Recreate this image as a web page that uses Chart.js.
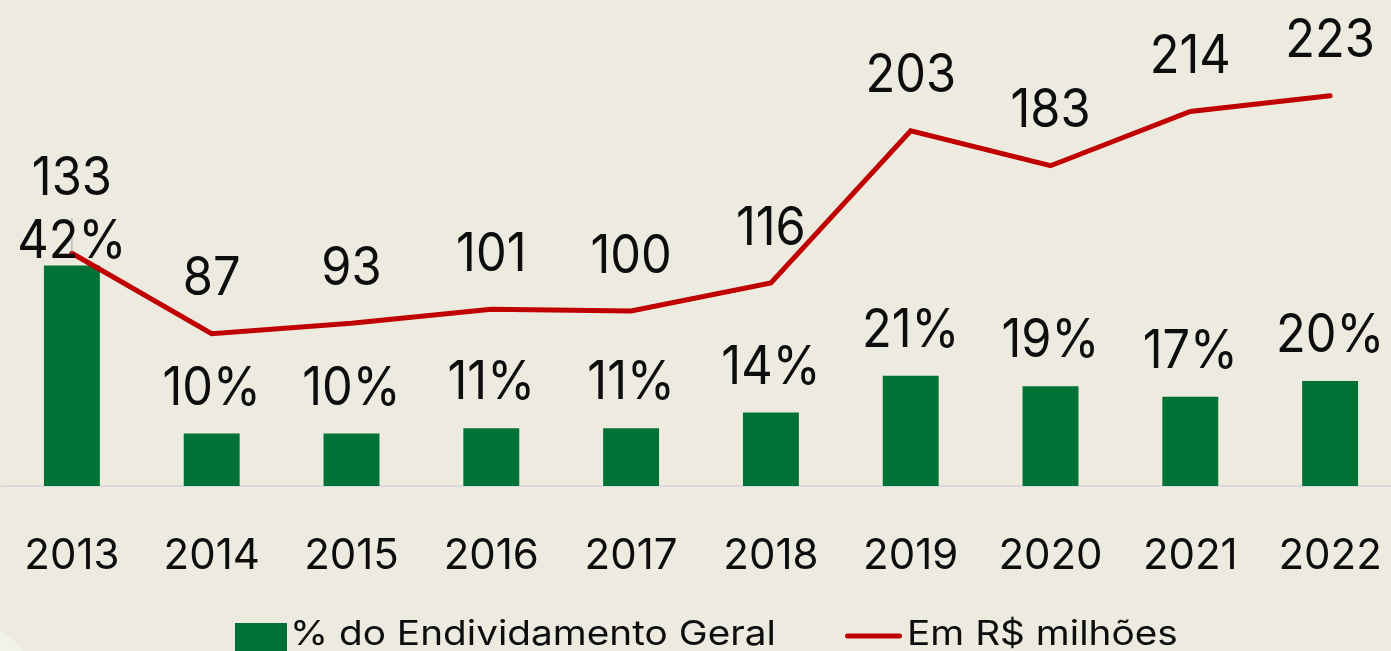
<!DOCTYPE html>
<html>
<head>
<meta charset="utf-8">
<script src="https://cdn.jsdelivr.net/npm/chart.js@4.4.1/dist/chart.umd.min.js"></script>
<style>
  html, body { margin: 0; padding: 0; background: #EDEBE0; overflow: hidden; }
  #wrap { width: 1391px; height: 651px; overflow: hidden; position: relative; }
  canvas { display: block; }
</style>
</head>
<body>
<div id="wrap"><canvas id="chart" width="1400" height="651"></canvas></div>
<script>
// Anos
const years = ['2013', '2014', '2015', '2016', '2017', '2018', '2019', '2020', '2021', '2022'];
// Participação no endividamento geral (%)
const debtShare = [42, 10, 10, 11, 11, 14, 21, 19, 17, 20];
// Valor em R$ milhões
const amountMillions = [133, 87, 93, 101, 100, 116, 203, 183, 214, 223];
// Nomes das séries
const seriesNames = ['% do Endividamento Geral', 'Em R$ milhões'];

const GREEN = '#007236';
const RED = '#C00000';
const INK = '#0d0d0d';
const FONT = 'Inter, "Open Sans", sans-serif';
const LABEL_SIZE = 53;
const LABEL_HS = 0.92;
const LEGEND_SIZE = 34;
const LEGEND_HS = 1.14;

function drawText(ctx, text, x, y, hs) {
  ctx.save();
  ctx.translate(x, y);
  ctx.scale(hs, 1);
  ctx.fillText(text, 0, 0);
  ctx.restore();
}

// Fundo com o arco claro no canto inferior esquerdo
const backdrop = {
  id: 'backdrop',
  beforeDraw(chart) {
    const ctx = chart.ctx;
    ctx.save();
    ctx.fillStyle = '#EDEBE0';
    ctx.fillRect(0, 0, chart.width, chart.height);
    ctx.beginPath();
    ctx.arc(-60, 720, 108, 0, Math.PI * 2);
    ctx.fillStyle = '#F1F3E9';
    ctx.fill();
    ctx.restore();
  }
};

// Rótulos de valor das barras e da linha
const valueLabels = {
  id: 'valueLabels',
  afterDatasetsDraw(chart) {
    const ctx = chart.ctx;
    const bars = chart.getDatasetMeta(0).data;
    const pts = chart.getDatasetMeta(1).data;
    const cap = LABEL_SIZE * 0.727;
    ctx.save();
    ctx.fillStyle = INK;
    ctx.textAlign = 'center';
    ctx.textBaseline = 'alphabetic';
    ctx.font = `${LABEL_SIZE}px ${FONT}`;
    bars.forEach((bar, i) => {
      const pt = pts[i];
      let barBase = bar.y - 29;
      let lineBase = pt.y - 38.5;
      let leader = false;
      if (Math.abs(barBase - lineBase) < cap + 8) {
        // rótulos sobrepostos: o da barra encosta na barra, o da linha sobe
        barBase = bar.y - 7.5;
        lineBase = barBase - 63;
        leader = true;
      }
      if (leader) {
        ctx.save();
        ctx.strokeStyle = 'rgba(150,150,150,0.55)';
        ctx.lineWidth = 1.5;
        ctx.beginPath();
        ctx.moveTo(pt.x, lineBase + 23);
        ctx.lineTo(pt.x, pt.y);
        ctx.stroke();
        ctx.restore();
      }
      drawText(ctx, debtShare[i] + '%', bar.x, barBase, LABEL_HS);
      drawText(ctx, String(amountMillions[i]), pt.x, lineBase, LABEL_HS);
    });
    ctx.restore();
  }
};

// Legenda na base
const bottomLegend = {
  id: 'bottomLegend',
  afterDraw(chart) {
    const ctx = chart.ctx;
    ctx.save();
    ctx.fillStyle = GREEN;
    ctx.fillRect(235, 623, 52, 32);
    ctx.strokeStyle = RED;
    ctx.lineWidth = 5;
    ctx.lineCap = 'round';
    ctx.beginPath();
    ctx.moveTo(847.5, 636);
    ctx.lineTo(899.5, 636);
    ctx.stroke();
    ctx.fillStyle = INK;
    ctx.textAlign = 'left';
    ctx.textBaseline = 'alphabetic';
    ctx.font = `${LEGEND_SIZE}px ${FONT}`;
    drawText(ctx, seriesNames[0], 290, 645, LEGEND_HS);
    drawText(ctx, seriesNames[1], 907, 645, LEGEND_HS);
    ctx.restore();
  }
};

new Chart(document.getElementById('chart'), {
  data: {
    labels: years,
    datasets: [
      {
        type: 'bar',
        label: seriesNames[0],
        data: debtShare,
        backgroundColor: GREEN,
        categoryPercentage: 0.8,
        barPercentage: 0.5,
        yAxisID: 'y',
        order: 1
      },
      {
        type: 'line',
        label: seriesNames[1],
        data: amountMillions,
        borderColor: RED,
        borderWidth: 5,
        borderCapStyle: 'round',
        borderJoinStyle: 'miter',
        pointRadius: 0,
        tension: 0,
        fill: false,
        yAxisID: 'y1',
        order: 0
      }
    ]
  },
  options: {
    responsive: false,
    animation: false,
    devicePixelRatio: 1,
    layout: { padding: { top: 13.5, left: 2, right: 0, bottom: 0 } },
    plugins: { legend: { display: false }, tooltip: { enabled: false } },
    scales: {
      x: {
        offset: true,
        grid: { display: false },
        border: { display: true, color: '#D9D9D9', width: 2 },
        ticks: {
          color: INK,
          font: { family: FONT, size: 42, lineHeight: 1 },
          padding: 41,
          maxRotation: 0,
          autoSkip: false
        },
        afterFit(scale) {
          scale.height = 165;
          scale.paddingLeft = 0;
          scale.paddingRight = 0;
        }
      },
      y: { display: false, min: 0, max: 90 },
      y1: { display: false, min: 0, max: 270 }
    }
  },
  plugins: [backdrop, valueLabels, bottomLegend]
});
</script>
</body>
</html>
